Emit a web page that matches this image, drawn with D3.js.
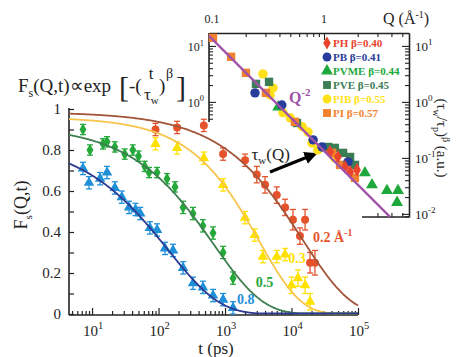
<!DOCTYPE html>
<html><head><meta charset="utf-8">
<script src="https://cdn.jsdelivr.net/npm/d3@7"></script>
<style>
body{margin:0;background:#fff}
svg{display:block}
svg text{fill:#222}
</style>
</head><body>
<svg id="c" width="457" height="357"></svg>
<script>
// ---------------- DATA ----------------
// main panel: F_s(Q,t) at four Q values
const qLabels = ["0.2", "0.3", "0.5", "0.8"];
const t02 = [90,190,480,935,2000,3000,4000,6000,8000,10500,13400,16000,19000,22500];
const f02 = [0.90,0.91,0.92,0.78,0.75,0.68,0.63,0.58,0.52,0.46,0.38,0.46,0.25,0.25];
const e02 = [0.03,0.03,0.03,0.03,0.03,0.04,0.04,0.04,0.04,0.05,0.04,0.05,0.05,0.06];
const t03 = [90,190,480,935,2000,2800,3700,6000,8000,10000,12500,16000,19000];
const f03 = [0.83,0.81,0.76,0.63,0.47,0.385,0.28,0.28,0.29,0.14,0.175,0.14,0.06];
const e03 = [0.03,0.03,0.03,0.03,0.03,0.03,0.03,0.03,0.03,0.04,0.04,0.04,0.04];
const t05 = [7.3,9.3,14.6,16.8,22,31,41,50,62,72,95,134,177,234,330,465,660,935,1320];
const f05 = [0.90,0.80,0.83,0.84,0.815,0.78,0.80,0.77,0.72,0.69,0.69,0.66,0.62,0.52,0.49,0.43,0.395,0.30,0.175];
const e05 = [0.025,0.025,0.025,0.025,0.025,0.025,0.025,0.025,0.025,0.025,0.025,0.025,0.025,0.03,0.03,0.03,0.03,0.03,0.03];
const t08 = [7.3,9,13.2,16.8,22,28,36,45,53,74,95,125,165,234,330,465,660,935,1320];
const f08 = [0.71,0.64,0.66,0.69,0.615,0.57,0.52,0.51,0.49,0.42,0.41,0.32,0.31,0.225,0.15,0.13,0.09,0.07,0.03];
const e08 = [0.03,0.03,0.03,0.03,0.03,0.03,0.03,0.03,0.03,0.03,0.03,0.03,0.03,0.03,0.03,0.03,0.03,0.03,0.03];
// KWW fit parameters (A, tau_w, beta) for each Q
const fitA    = [0.985, 0.96, 0.92, 0.85];
const fitTau  = [14700, 3300, 680, 139];
const fitBeta = [0.60, 0.70, 0.59, 0.56];
const xTickExp = [1,2,3,4,5];
const yTickLabels = ["0","0.2","0.4","0.6","0.8","1"];

// inset: scaled tau_w vs Q for several polymers
const insNames = ["PH","PB","PVME","PVE","PIB","PI"];
const insBetas = ["0.40","0.41","0.44","0.45","0.55","0.57"];
const qPH   = [1.13,1.33,1.54,1.71,1.97];
const vPH   = [0.128,0.104,0.069,0.056,0.061];
const qPB   = [0.242,0.42,0.80,0.96,1.64];
const vPB   = [1.45,0.88,0.21,0.157,0.085];
const qPVME = [0.39,2.32,2.68,3.65,4.58,4.49];
const vPVME = [0.81,0.054,0.033,0.026,0.026,0.016];
const qPVE  = [0.247,0.323,0.574,1.09,1.25,1.48,1.71,1.89];
const vPVE  = [2.1,2.28,0.42,0.157,0.151,0.123,0.104,0.075];
const qPIB  = [0.285,0.35,0.33,0.43,0.50,0.64,0.72,0.78,0.88,1.25];
const vPIB  = [3.16,1.78,1.33,0.64,0.52,0.36,0.29,0.185,0.139,0.1];
const qPI   = [0.102,0.148,0.201,0.303,0.55,1.18,1.39,1.89];
const vPI   = [13.9,6.4,3.3,1.45,0.44,0.123,0.075,0.044];
const powerLawC = 0.1335;   // Q^-2 line amplitude
const insXTicks = [0.1, 1];
const insYExp = [1,0,-1,-2];

// ---------------- DRAW ----------------
const svg = d3.select("#c");
const FONT = '"Liberation Serif","Times New Roman",serif';

const x = d3.scaleLog().domain([4.5, 1e5]).range([69, 358]);
const y = d3.scaleLinear().domain([0, 1]).range([314, 109]);
const axisY0 = 315;

function txt(){ return svg.append("text").attr("font-family", FONT); }
function sup(sel, base, s, fs){
  sel.append("tspan").text(base);
  sel.append("tspan").attr("dy", -fs*0.45).style("font-size", (fs*0.7)+"px").text(s);
}

// x axis
const gx = svg.append("g").attr("transform", `translate(0,${axisY0})`);
gx.call(d3.axisBottom(x).tickValues(x.ticks().filter(v=>v>=4.5)).tickSize(-4).tickSizeOuter(0).tickFormat(""));
gx.selectAll(".tick line").attr("y2", d => Math.abs(Math.log10(d)-Math.round(Math.log10(d)))<1e-6 ? -7 : -4)
  .attr("stroke","#222").attr("stroke-width",1.2);
gx.select(".domain").attr("stroke","#222").attr("stroke-width",1.6).attr("d", `M${x.range()[0]},0H${x.range()[1]}`);
xTickExp.forEach(k=>{
  const t = txt().attr("x", x(Math.pow(10,k))+1).attr("y", 336)
    .attr("text-anchor","middle").style("font-size","15px");
  sup(t, "10", String(k), 15);
});
txt().attr("x", 216).attr("y", 354).attr("text-anchor","middle").style("font-size","17px").text("t (ps)");

// y axis
const gy = svg.append("g").attr("transform", `translate(69,0)`);
gy.call(d3.axisLeft(y).tickValues(d3.range(0,1.0001,0.1)).tickSize(-5).tickSizeOuter(0).tickFormat(""));
gy.selectAll(".tick line").attr("stroke","#222").attr("stroke-width",1.2);
gy.select(".domain").attr("stroke","#222").attr("stroke-width",1.6).attr("d", `M0,${axisY0}V${y(1)-1}`);
yTickLabels.forEach(s=>{
  txt().attr("x", 61).attr("y", y(+s)+5).attr("text-anchor","end").style("font-size","15px").text(s);
});
// y title
const yt = txt().attr("transform","translate(27,205) rotate(-90)").attr("text-anchor","middle").style("font-size","18px");
yt.append("tspan").text("F");
yt.append("tspan").attr("dy",5).style("font-size","11px").text("s");
yt.append("tspan").attr("dy",-5).text("(Q,t)");

// formula
const ft = txt().attr("x",18).attr("y",92).style("font-size","19px");
ft.append("tspan").text("F");
ft.append("tspan").attr("dy",5).style("font-size","12px").text("s");
ft.append("tspan").attr("dy",-5).text("(Q,t)∝exp");
txt().attr("x",119).attr("y",97).style("font-size","30px").text("[");
txt().attr("x",129).attr("y",92).style("font-size","19px").text("-(");
txt().attr("x",151).attr("y",79).attr("text-anchor","middle").style("font-size","17px").text("t");
const tw = txt().attr("x",144).attr("y",100).style("font-size","17px");
tw.append("tspan").text("τ");
tw.append("tspan").attr("dy",4).style("font-size","11px").text("w");
txt().attr("x",159).attr("y",92).style("font-size","19px").text(")");
txt().attr("x",166).attr("y",78).style("font-size","14px").text("β");
txt().attr("x",176).attr("y",97).style("font-size","30px").text("]");

// fits + data
const series = [
  {t:t02,f:f02,e:e02,pt:"#e4532c",ln:"#a3553a",sym:d3.symbolCircle,size:50},
  {t:t03,f:f03,e:e03,pt:"#ffe100",ln:"#f7c54c",sym:d3.symbolTriangle,size:48},
  {t:t05,f:f05,e:e05,pt:"#25a83a",ln:"#3f7f50",sym:d3.symbolDiamond,size:42},
  {t:t08,f:f08,e:e08,pt:"#1f90d8",ln:"#2c3a92",sym:d3.symbolTriangle,size:48}
];
const tGrid = d3.range(0, 401).map(i => 4.5*Math.pow(1e5/4.5, i/400));
const line = d3.line().x(d=>x(d[0])).y(d=>y(d[1]));
series.forEach((s,i)=>{
  const g = svg.append("g");
  s.t.forEach((tv,j)=>{
    const cx = x(tv), y1 = y(s.f[j]+s.e[j]), y2 = y(Math.max(0,s.f[j]-s.e[j]));
    g.append("line").attr("x1",cx).attr("x2",cx).attr("y1",y1).attr("y2",y2).attr("stroke",s.pt).attr("stroke-width",1.3);
    g.append("line").attr("x1",cx-3).attr("x2",cx+3).attr("y1",y1).attr("y2",y1).attr("stroke",s.pt).attr("stroke-width",1.3);
    g.append("line").attr("x1",cx-3).attr("x2",cx+3).attr("y1",y2).attr("y2",y2).attr("stroke",s.pt).attr("stroke-width",1.3);
    g.append("path").attr("d", d3.symbol().type(s.sym).size(s.size)()).attr("transform",`translate(${cx},${y(s.f[j])})`).attr("fill",s.pt);
  });
});
series.forEach((s,i)=>{
  const pts = tGrid.map(tv => [tv, fitA[i]*Math.exp(-Math.pow(tv/fitTau[i], fitBeta[i]))]);
  svg.append("path").attr("d", line(pts.map(d=>[d[0], Math.max(d[1],0.003)]))).attr("fill","none").attr("stroke",s.ln).attr("stroke-width",1.8);
});

// Q labels
const qlabPos = [[21000,0.35],[8900,0.25],[2900,0.13],[1510,0.05]];
qLabels.forEach((q,i)=>{
  const t = txt().attr("x",x(qlabPos[i][0])).attr("y",y(qlabPos[i][1]))
    .style("font-size","14px").style("font-weight","bold").style("fill",series[i].pt);
  if(i===0){
    t.append("tspan").text(q+" Å");
    t.append("tspan").attr("dy",-6).style("font-size","10px").text("-1");
  } else t.text(q);
});

// tau_w(Q) annotation + arrow
const ann = txt().attr("x",x(2500)).attr("y",y(0.75)).style("font-size","17px");
ann.append("tspan").text("τ");
ann.append("tspan").attr("dy",4).style("font-size","11px").text("w");
ann.append("tspan").attr("dy",-4).text("(Q)");
const ax1=[x(4750),y(0.693)], ax2=[x(22500),y(0.78)];
svg.append("defs").append("marker").attr("id","ah").attr("viewBox","0 0 10 10").attr("refX",8).attr("refY",5)
  .attr("markerWidth",4).attr("markerHeight",4).attr("orient","auto")
  .append("path").attr("d","M0,0L10,5L0,10z").attr("fill","#000");
svg.append("line").attr("x1",ax1[0]).attr("y1",ax1[1]).attr("x2",ax2[0]).attr("y2",ax2[1])
  .attr("stroke","#000").attr("stroke-width",3.2).attr("marker-end","url(#ah)");

// ---------------- INSET ----------------
const qx = d3.scaleLog().domain([0.094, 5.74]).range([209, 409]);
const vy = d3.scaleLog().domain([0.0088, 17]).range([217, 33]);
const isDec = d => Math.abs(Math.log10(d)-Math.round(Math.log10(d)))<1e-6;

const gt = svg.append("g").attr("transform","translate(0,33)");
gt.call(d3.axisTop(qx).tickValues(qx.ticks()).tickSize(-4).tickSizeOuter(0).tickFormat(""));
gt.selectAll(".tick line").attr("y2", d=> isDec(d)?7:4).attr("stroke","#222").attr("stroke-width",1.1);
gt.select(".domain").attr("stroke","#222").attr("stroke-width",1.6);
insXTicks.forEach(v=>{
  txt().attr("x",qx(v)).attr("y",23).attr("text-anchor","middle").style("font-size","12px").text(String(v));
});
const qt = txt().attr("x",383).attr("y",24).style("font-size","16px");
qt.append("tspan").text("Q (Å");
qt.append("tspan").attr("dy",-6).style("font-size","10px").text("-1");
qt.append("tspan").attr("dy",6).text(")");

const gr = svg.append("g").attr("transform","translate(409,0)");
gr.call(d3.axisRight(vy).tickValues(vy.ticks().filter(v=>v>=0.0088)).tickSize(-4).tickSizeOuter(0).tickFormat(""));
gr.selectAll(".tick line").attr("x2", d=> isDec(d)?-7:-4).attr("stroke","#222").attr("stroke-width",1.1);
gr.select(".domain").attr("stroke","#222").attr("stroke-width",1.6);
insYExp.forEach(k=>{
  const t = txt().attr("x",415).attr("y",vy(Math.pow(10,k))+5).style("font-size","13px");
  sup(t,"10",String(k),13);
});
const rt = txt().attr("transform","translate(437,138) rotate(90)").attr("text-anchor","middle").style("font-size","15px");
rt.append("tspan").text("(τ");
rt.append("tspan").attr("dy",4).style("font-size","10px").text("w");
rt.append("tspan").attr("dy",-4).text("/τ");
rt.append("tspan").attr("dy",4).style("font-size","10px").text("p");
rt.append("tspan").attr("dy",-4).text(")");
rt.append("tspan").attr("dy",-6).style("font-size","10px").text("β");
rt.append("tspan").attr("dy",6).text(" (a.u.)");

const leftEnd = 122;
const gl = svg.append("g").attr("transform","translate(209,0)");
gl.call(d3.axisLeft(vy).tickValues(vy.ticks().filter(v=>vy(v)<=leftEnd)).tickSize(-4).tickSizeOuter(0).tickFormat(""));
gl.selectAll(".tick line").attr("x2", d=> isDec(d)?7:4).attr("stroke","#222").attr("stroke-width",1.1);
gl.select(".domain").attr("stroke","#222").attr("stroke-width",1.6).attr("d",`M0,33V${leftEnd}`);
[1,0].forEach(k=>{
  const t = txt().attr("x",204).attr("y",vy(Math.pow(10,k))+5).attr("text-anchor","end").style("font-size","12px");
  sup(t,"10",String(k),12);
});
const botStart = 362;
const gb = svg.append("g").attr("transform","translate(0,217)");
gb.call(d3.axisBottom(qx).tickValues(qx.ticks().filter(v=>qx(v)>=botStart+3)).tickSize(-4).tickSizeOuter(0).tickFormat(""));
gb.selectAll(".tick line").attr("stroke","#222").attr("stroke-width",1.1);
gb.select(".domain").attr("stroke","#222").attr("stroke-width",1.6).attr("d",`M${botStart},0H409`);

const insSeries = [
  {q:qPIB, v:vPIB, c:"#ffe11a", sym:d3.symbolCircle, size:70},
  {q:qPVME,v:vPVME,c:"#1ea83c", sym:d3.symbolTriangle, size:62},
  {q:qPVE, v:vPVE, c:"#3d7d55", sym:d3.symbolSquare, size:70},
  {q:qPI,  v:vPI,  c:"#f2812e", sym:d3.symbolSquare, size:70},
  {q:qPB,  v:vPB,  c:"#283c9c", sym:d3.symbolCircle, size:70},
  {q:qPH,  v:vPH,  c:"#e8452c", sym:d3.symbolDiamond, size:55}
];
insSeries.forEach(s=>{
  svg.append("g").selectAll("path").data(s.q).join("path")
    .attr("d", d3.symbol().type(s.sym).size(s.size)())
    .attr("transform",(d,j)=>`translate(${qx(d)},${vy(s.v[j])})`)
    .attr("fill", s.c);
});
const qLine = d3.range(0,201).map(i => 0.094*Math.pow(5.74/0.094, i/200))
  .map(q=>[q, powerLawC/(q*q)]).filter(d=>d[1]>=0.0088);
svg.append("path").attr("d", d3.line().x(d=>qx(d[0])).y(d=>vy(d[1]))(qLine))
  .attr("fill","none").attr("stroke","#a052a8").attr("stroke-width",2.2);
const ql = txt().attr("x",289).attr("y",103).style("font-size","16px").style("font-weight","bold").style("fill","#a052a8");
ql.append("tspan").text("Q");
ql.append("tspan").attr("dy",-7).style("font-size","11px").text("-2");

const legColors = ["#e8452c","#283c9c","#1ea83c","#3d7d55","#ffe11a","#f2812e"];
const legSyms = [d3.symbolDiamond,d3.symbolCircle,d3.symbolTriangle,d3.symbolSquare,d3.symbolCircle,d3.symbolSquare];
const legSizes = [50,62,62,62,62,62];
insNames.forEach((n,i)=>{
  const yy = 43 + i*14;
  svg.append("path").attr("d", d3.symbol().type(legSyms[i]).size(legSizes[i])()).attr("transform",`translate(327,${yy})`).attr("fill",legColors[i]);
  txt().attr("x",333).attr("y",yy+4).style("font-size","11px").style("font-weight","bold")
    .style("fill",legColors[i]).text(n+" β="+insBetas[i]);
});
</script>
</body></html>
